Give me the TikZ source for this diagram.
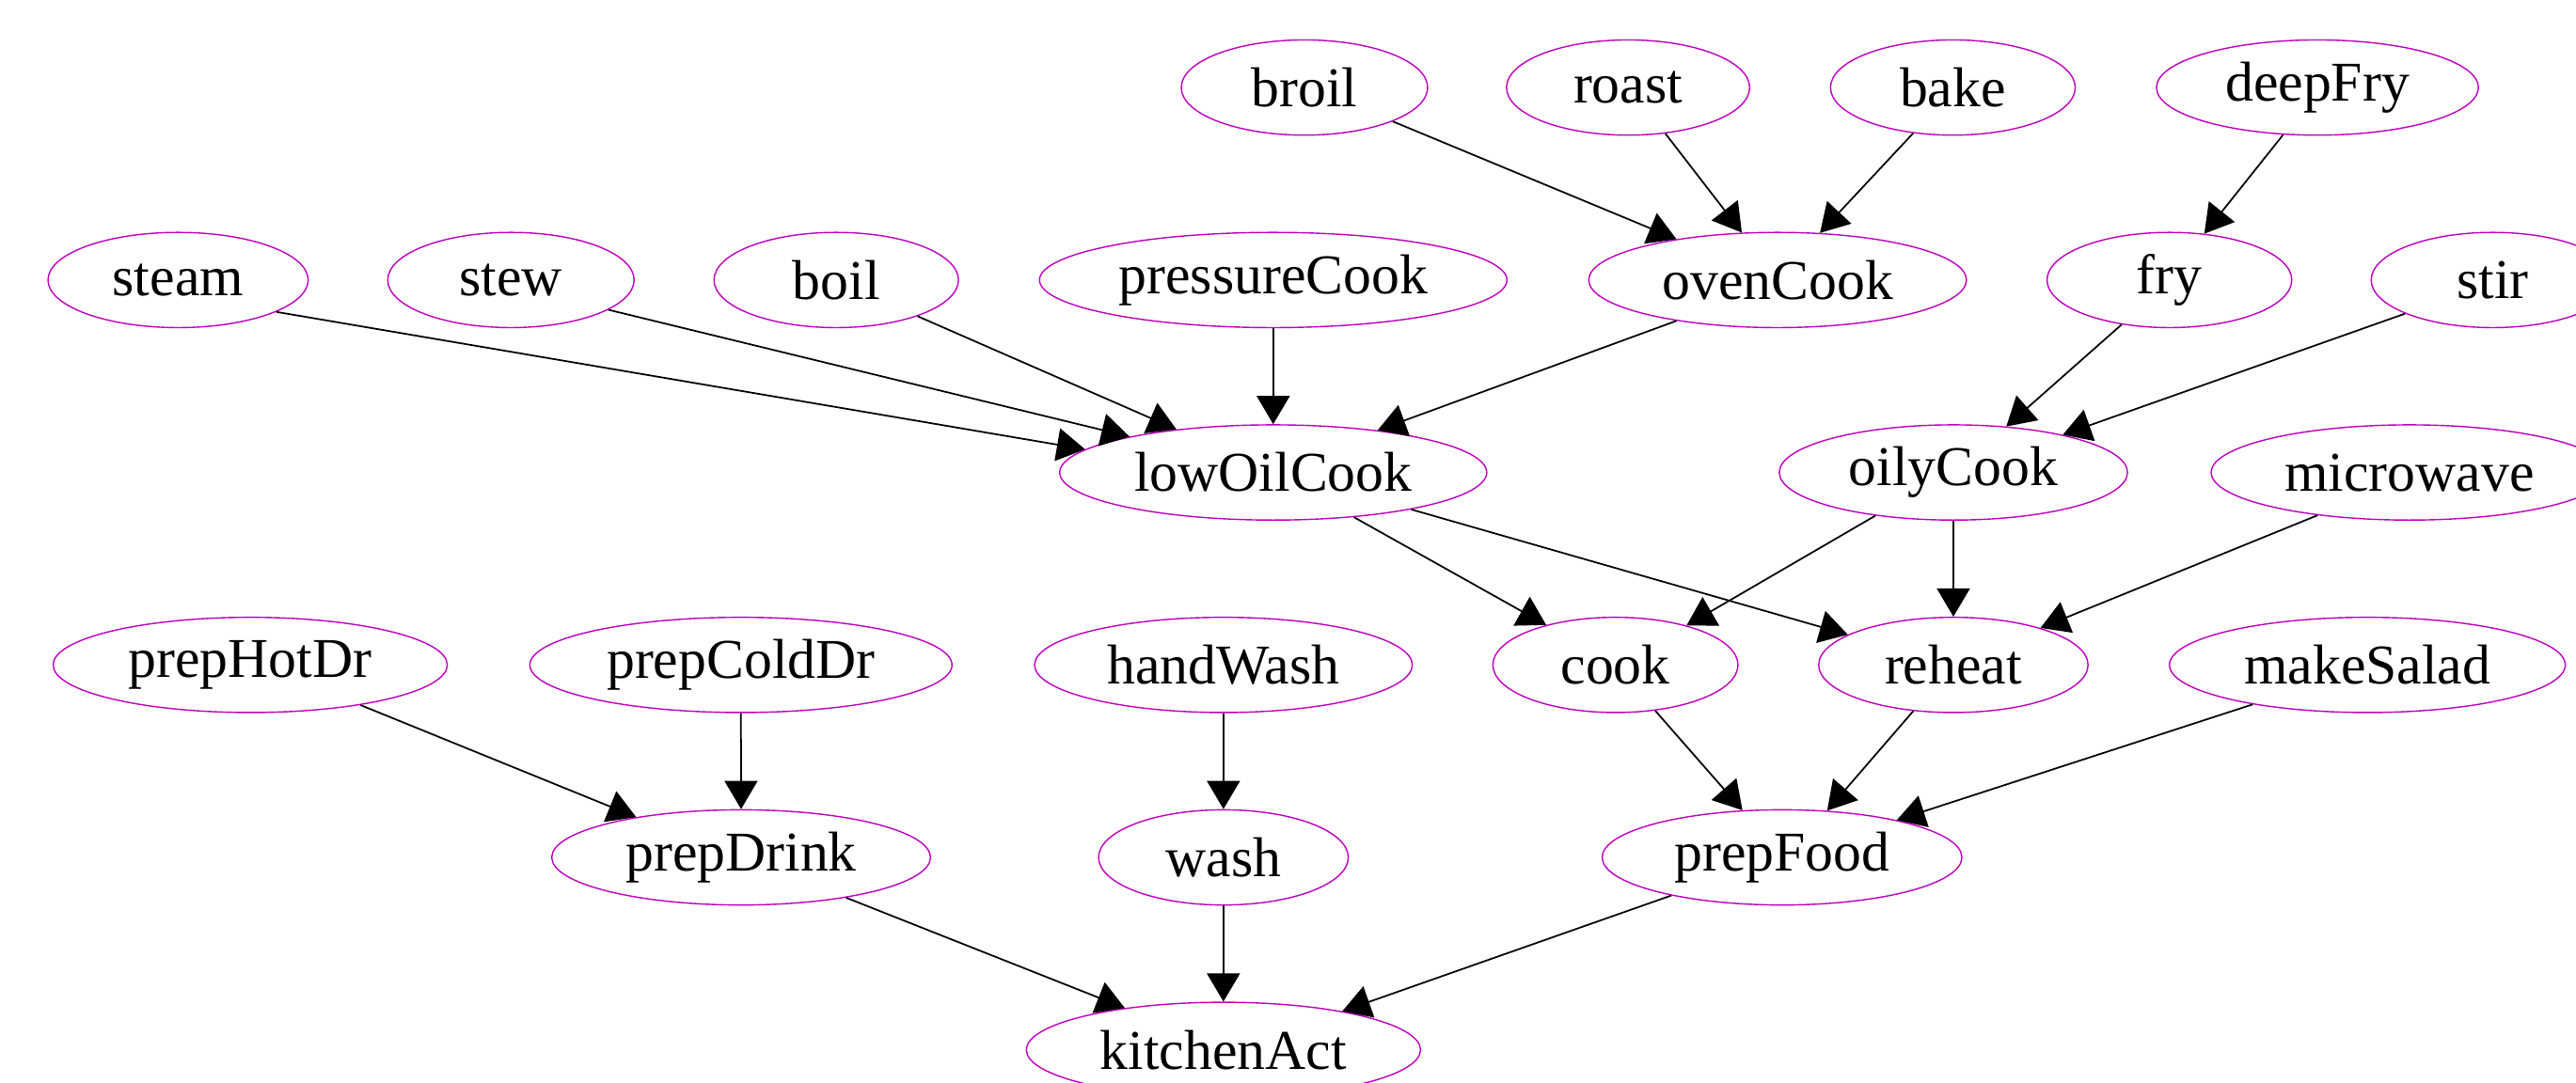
\documentclass[tikz,border=0pt]{standalone}
\usepackage{fontspec}
\setmainfont{Liberation Serif}
\usetikzlibrary{shapes.geometric,arrows.meta}
\definecolor{nodemag}{RGB}{190,0,190}
\tikzset{
  nd/.style={ellipse, draw=nodemag, line width=0.8pt, inner sep=0pt,
    minimum height=2.026cm, minimum width=#1*0.069872cm,
    font=\fontsize{34}{40}\selectfont},
  ed/.style={draw=black, line width=1pt, -{Triangle[length=0.6cm, width=0.7cm]}}
}
\begin{document}
\begin{tikzpicture}[x=0.034936cm, y=-0.034936cm]
\useasboundingbox (0,0) rectangle (1568,659);
% row 1
\node[nd=75]   (broil)   at (794,53.3)    {broil};
\node[nd=74]   (roast)   at (991,53.3)    {roast};
\node[nd=74.5] (bake)    at (1188.7,53.3) {bake};
\node[nd=98]   (deepFry) at (1410.6,53.3) {deepFry};
% row 2
\node[nd=79.2]  (steam)        at (108.4,170.5)  {steam};
\node[nd=75]    (stew)         at (311,170.5)    {stew};
\node[nd=74.4]  (boil)         at (509,170.5)    {boil};
\node[nd=142.3] (pressureCook) at (775,170.5)    {pressureCook};
\node[nd=115]   (ovenCook)     at (1082,170.5)   {ovenCook};
\node[nd=74.5]  (fry)          at (1320.5,170.5) {fry};
\node[nd=74]    (stir)         at (1517.3,170.5) {stir};
% row 3
\node[nd=130]   (lowOilCook) at (775,287.7)    {lowOilCook};
\node[nd=106]   (oilyCook)   at (1189,287.7)   {oilyCook};
\node[nd=120.7] (microwave)  at (1466.6,287.7) {microwave};
% row 4
\node[nd=120]   (prepHotDr)  at (152.3,404.9) {prepHotDr};
\node[nd=128.5] (prepColdDr) at (451,404.9)   {prepColdDr};
\node[nd=115]   (handWash)   at (744.7,404.9) {handWash};
\node[nd=74.6]  (cook)       at (983.3,404.9) {cook};
\node[nd=82]    (reheat)     at (1189,404.9)  {reheat};
\node[nd=120.5] (makeSalad)  at (1441,404.9)  {makeSalad};
% row 5
\node[nd=115.3] (prepDrink) at (451.1,522.1)  {prepDrink};
\node[nd=76]    (wash)      at (744.7,522.1)  {wash};
\node[nd=109.5] (prepFood)  at (1084.7,522.1) {prepFood};
% row 6
\node[nd=120]   (kitchenAct) at (744.7,639.3) {kitchenAct};
% edges
\draw[ed] (broil.-21.7) -- (ovenCook.158.4);
\draw[ed] (roast.-51.8) -- (ovenCook.127.9);
\draw[ed] (bake.-131.4) -- (ovenCook.48.7);
\draw[ed] (deepFry.-126.6) -- (fry.53.9);
\draw[ed] (steam.-18.3) -- (lowOilCook.173.4);
\draw[ed] (stew.-17.3) -- (lowOilCook.166.9);
\draw[ed] (boil.-24.7) -- (lowOilCook.156.5);
\draw[ed] (pressureCook.south) -- (lowOilCook.north);
\draw[ed] (ovenCook.-158.3) -- (lowOilCook.22.3);
\draw[ed] (fry.-137.8) -- (oilyCook.41.8);
\draw[ed] (stir.-159.7) -- (oilyCook.19.2);
\draw[ed] (lowOilCook.-29.9) -- (cook.150.7);
\draw[ed] (lowOilCook.-15.5) -- (reheat.164.9);
\draw[ed] (oilyCook.-151.1) -- (cook.29.3);
\draw[ed] (oilyCook.south) -- (reheat.north);
\draw[ed] (microwave.-155.9) -- (reheat.23.5);
\draw[ed] (cook.-49.1) -- (prepFood.130.6);
\draw[ed] (reheat.-131.5) -- (prepFood.46.6);
\draw[ed] (makeSalad.-161.3) -- (prepFood.18.5);
\draw[ed] (prepHotDr.-20.7) -- (prepDrink.159.6);
\draw[ed] (prepColdDr.south) -- (prepDrink.north);
\draw[ed] (handWash.south) -- (wash.north);
\draw[ed] (prepDrink.-21.2) -- (kitchenAct.157.7);
\draw[ed] (wash.south) -- (kitchenAct.north);
\draw[ed] (prepFood.-161.5) -- (kitchenAct.18.7);
\end{tikzpicture}
\end{document}
